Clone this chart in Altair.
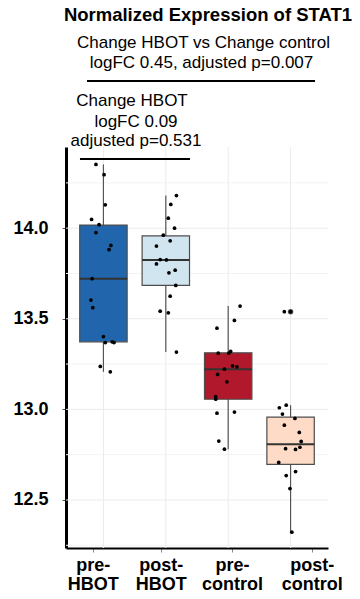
import altair as alt
import pandas as pd

# ---------------- data ----------------
groups = ["pre-HBOT", "post-HBOT", "pre-control", "post-control"]
fill_colors = ["#2166AC", "#D1E5F0", "#B2182B", "#FDDBC7"]

box_lower = [13.207, 13.316, 12.780, 12.322]
box_q1 = [13.373, 13.684, 13.056, 12.696]
box_median = [13.721, 13.824, 13.222, 12.808]
box_q3 = [14.017, 13.957, 13.312, 12.957]
box_upper = [14.352, 14.180, 13.570, 13.023]

outlier_group = ["post-control"]
outlier_value = [13.539]

pre_hbot_values = [14.352, 14.295, 14.129, 14.048, 14.019, 13.976, 13.905, 13.881, 13.721,
                   13.603, 13.561, 13.402, 13.369, 13.373, 13.369, 13.237, 13.207]
pre_hbot_jitter = [-0.12, 0.01, 0.03, -0.19, -0.07, -0.12, 0.12, 0.09, -0.18,
                   -0.20, -0.17, 0.00, 0.03, 0.14, 0.17, -0.05, 0.11]

post_hbot_values = [14.180, 14.131, 14.055, 14.000, 13.961, 13.930, 13.901, 13.827, 13.825,
                    13.803, 13.768, 13.754, 13.684, 13.625, 13.542, 13.533, 13.316]
post_hbot_jitter = [0.17, 0.08, 0.04, 0.14, -0.04, 0.07, -0.15, -0.09, 0.01,
                    -0.15, 0.15, 0.05, 0.16, 0.07, -0.09, 0.04, 0.17]

pre_control_values = [13.570, 13.491, 13.448, 13.310, 13.310, 13.320, 13.240, 13.235, 13.222,
                      13.193, 13.152, 13.070, 13.056, 12.979, 12.985, 12.825, 12.780]
pre_control_jitter = [0.19, 0.10, -0.18, -0.16, 0.01, 0.04, 0.07, 0.14, -0.06,
                      -0.17, -0.02, -0.20, -0.20, -0.18, 0.10, -0.15, -0.06]

post_control_values = [13.539, 13.539, 13.023, 13.009, 12.974, 12.950, 12.913, 12.873, 12.823,
                       12.791, 12.783, 12.779, 12.707, 12.657, 12.635, 12.563, 12.322]
post_control_jitter = [-0.10, 0.00, -0.07, -0.18, -0.13, 0.07, -0.10, 0.14, 0.17,
                       0.15, -0.08, 0.08, -0.19, 0.08, -0.07, -0.01, 0.02]

y_ticks = [12.5, 13.0, 13.5, 14.0]
grid_major = [12.5, 13.0, 13.5, 14.0]
grid_minor = [12.25, 12.75, 13.25, 13.75, 14.25]
label_shift = [-0.17, -0.08, 0.06, 0.34]

title_text = ["Normalized Expression of STAT1"]
title_x = [2.676]
title_y = [15.143]

note_text = ["Change HBOT vs Change control", "logFC 0.45, adjusted p=0.007",
             "Change HBOT", "logFC 0.09", "adjusted p=0.531"]
note_x = [2.604, 2.572, 1.458, 1.522, 1.522]
note_y = [14.994, 14.884, 14.674, 14.560, 14.451]

bracket_x1 = [0.737, 0.624]
bracket_x2 = [4.392, 2.388]
bracket_y = [14.812, 14.382]

# ---------------- tables ----------------
positions = [i + 1 for i in range(len(groups))]
box_df = pd.DataFrame({
    "group": groups, "pos": positions, "lower": box_lower, "q1": box_q1,
    "median": box_median, "q3": box_q3, "upper": box_upper,
})
value_lists = [pre_hbot_values, post_hbot_values, pre_control_values, post_control_values]
jitter_lists = [pre_hbot_jitter, post_hbot_jitter, pre_control_jitter, post_control_jitter]
rows = []
for g, p, vals, jits in zip(groups, positions, value_lists, jitter_lists):
    for v, j in zip(vals, jits):
        rows.append({"group": g, "x": p + j, "value": v})
pts_df = pd.DataFrame(rows)
out_df = pd.DataFrame({"group": outlier_group,
                       "pos": [positions[groups.index(g)] for g in outlier_group],
                       "value": outlier_value})
grid_df = pd.DataFrame({"y": grid_major + grid_minor,
                        "kind": ["major"] * len(grid_major) + ["minor"] * len(grid_minor)})
vgrid_df = pd.DataFrame({"pos": positions})
note_df = pd.DataFrame({"text": note_text, "x": note_x, "y": note_y})
title_df = pd.DataFrame({"text": title_text, "x": title_x, "y": title_y})
bracket_df = pd.DataFrame({"x1": bracket_x1, "x2": bracket_x2, "y": bracket_y})

label_pos = [round(p + s, 3) for p, s in zip(positions, label_shift)]
expr = "''"
for g, lp in reversed(list(zip(groups, label_pos))):
    a, b = g.split("-", 1)
    expr = f"abs(datum.value - {lp}) < 0.01 ? ['{a}-', '{b}'] : ({expr})"

FONT = "Liberation Sans"
x_scale = alt.Scale(domain=[0.4, 4.6], nice=False, zero=False)
y_scale = alt.Scale(domain=[12.235, 14.448], nice=False, zero=False)
x_axis = alt.Axis(values=label_pos, labelExpr=expr, title=None, grid=False,
                  domainColor="black", domainWidth=2, tickColor="#888888", tickSize=4,
                  labelFont=FONT, labelFontSize=18, labelFontWeight="bold",
                  labelColor="black", labelLineHeight=19, labelPadding=4,
                  labelAngle=0, labelAlign="center", labelBaseline="top")
y_axis = alt.Axis(values=y_ticks, format=".1f", title=None, grid=False,
                  domainColor="black", domainWidth=3, tickColor="#555555", tickSize=4,
                  labelFont=FONT, labelFontSize=18, labelFontWeight="bold",
                  labelColor="black", labelPadding=14)


def X(field):
    return alt.X(field, type="quantitative", scale=x_scale, axis=x_axis)


def Y(field):
    return alt.Y(field, type="quantitative", scale=y_scale, axis=y_axis)


hgrid = alt.Chart(grid_df).mark_rule(strokeWidth=1).encode(
    y=Y("y"),
    color=alt.Color("kind:N", scale=alt.Scale(domain=["major", "minor"],
                                              range=["#EBEBEB", "#F3F3F3"]), legend=None),
)
vgrid = alt.Chart(vgrid_df).mark_rule(color="#EBEBEB", strokeWidth=1).encode(x=X("pos"))

whisk = alt.Chart(box_df).mark_rule(color="#555555", strokeWidth=1.2).encode(
    x=X("pos"), y=Y("lower"), y2="upper")

boxes = alt.Chart(box_df).transform_calculate(
    xl="datum.pos - 0.38", xr="datum.pos + 0.38"
).mark_bar(stroke="#4D4D4D", strokeWidth=1.2).encode(
    x=X("xl"), x2="xr", y=Y("q1"), y2="q3",
    color=alt.Color("group:N", scale=alt.Scale(domain=groups, range=fill_colors), legend=None),
)
medians = alt.Chart(box_df).transform_calculate(
    xl="datum.pos - 0.38", xr="datum.pos + 0.38"
).mark_rule(color="#333333", strokeWidth=2).encode(x=X("xl"), x2="xr", y=Y("median"))

outl = alt.Chart(out_df).mark_circle(size=30, color="#555555", opacity=1).encode(
    x=X("pos"), y=Y("value"))
points = alt.Chart(pts_df).mark_circle(size=14, color="black", opacity=1).encode(
    x=X("x"), y=Y("value"))

brackets = alt.Chart(bracket_df).mark_rule(color="black", strokeWidth=2).encode(
    x=X("x1"), x2="x2", y=Y("y"))
notes = alt.Chart(note_df).mark_text(font=FONT, fontSize=17, color="black",
                                     align="center", baseline="alphabetic").encode(
    x=X("x"), y=Y("y"), text="text:N")
title = alt.Chart(title_df).mark_text(font=FONT, fontSize=18.5, fontWeight="bold", color="black",
                                      align="center", baseline="alphabetic").encode(
    x=X("x"), y=Y("y"), text="text:N")

chart = alt.layer(hgrid, vgrid, whisk, boxes, medians, outl, points, brackets, notes, title).properties(
    width=262, height=401,
    padding={"left": 66, "top": 147, "right": 32, "bottom": 51},
    autosize=alt.AutoSizeParams(type="none"),
    background="white",
).resolve_scale(color="independent").configure_view(stroke="transparent")

chart.save("out.html", embed_options={"renderer": "svg", "actions": False})
